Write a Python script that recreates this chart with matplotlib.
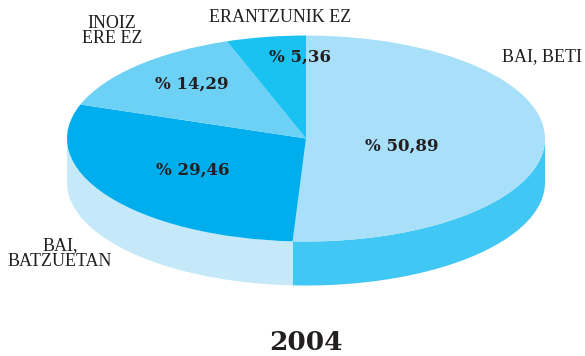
import numpy as np
import matplotlib.pyplot as plt
from matplotlib.patches import Wedge
from matplotlib.transforms import Affine2D

# Survey shares (%), clockwise from 12 o'clock
values = [50.89, 29.46, 14.29, 5.36]
labels = ['BAI, BETI', 'BAI,\nBATZUETAN', 'INOIZ\nERE EZ', 'ERANTZUNIK EZ']
pct_text = ['% 50,89', '% 29,46', '% 14,29', '% 5,36']
year = '2004'

top_colors = ['#a9e0f9', '#00aeee', '#6dd0f5', '#1ac2f1']
side_colors = ['#40c7f3', '#c6e9f9', '#6dd0f5', '#1ac2f1']

W, H = 585, 356
fig = plt.figure(figsize=(W / 100, H / 100), dpi=100)
ax = fig.add_axes([0, 0, 1, 1])
ax.set_xlim(0, W)
ax.set_ylim(0, H)
ax.axis('off')

# ellipse geometry of the tilted pie (pixel units, y up)
cx, cy = 306, H - 138.5
a, b = 239, 103
depth = 44

# slice angles, counter-clockwise degrees
ends = 90 - 360 * np.cumsum(values) / 100
starts = np.concatenate([[90], ends[:-1]])

# side walls (only the front half, angles in [-180, 0] mod 360)
for th_hi, th_lo, col in zip(starts, ends, side_colors):
    for off in (0, -360, 360):
        lo = max(th_lo, -180 + off)
        hi = min(th_hi, 0 + off)
        if hi <= lo:
            continue
        t = np.radians(np.linspace(lo, hi, 120))
        xs = cx + a * np.cos(t)
        ys = cy + b * np.sin(t)
        ax.fill(np.concatenate([xs, xs[::-1]]),
                np.concatenate([ys, ys[::-1] - depth]),
                color=col, lw=0)

# top face
tr = Affine2D().scale(a, b).translate(cx, cy) + ax.transData
for th_hi, th_lo, col in zip(starts, ends, top_colors):
    ax.add_patch(Wedge((0, 0), 1, th_lo, th_hi, facecolor=col,
                       edgecolor='none', transform=tr))

# percentage labels
pct_pos = [(402, 146), (193, 170), (192, 84), (300, 57)]
for txt, (px, py) in zip(pct_text, pct_pos):
    ax.text(px, H - py, txt, ha='center', va='center', fontsize=12,
            fontweight='bold', family='DejaVu Serif', color='#231f20')

# category labels
lab_pos = [(542, 57), (60, 254), (112, 31), (280, 17)]
for txt, (px, py) in zip(labels, lab_pos):
    ax.text(px, H - py, txt, ha='center', va='center', fontsize=13,
            family='Liberation Serif', color='#231f20', linespacing=0.92)

ax.text(306, H - 342, year, ha='center', va='center', fontsize=19,
        fontweight='bold', family='DejaVu Serif', color='#231f20')

fig.savefig('out.png', dpi=100)
